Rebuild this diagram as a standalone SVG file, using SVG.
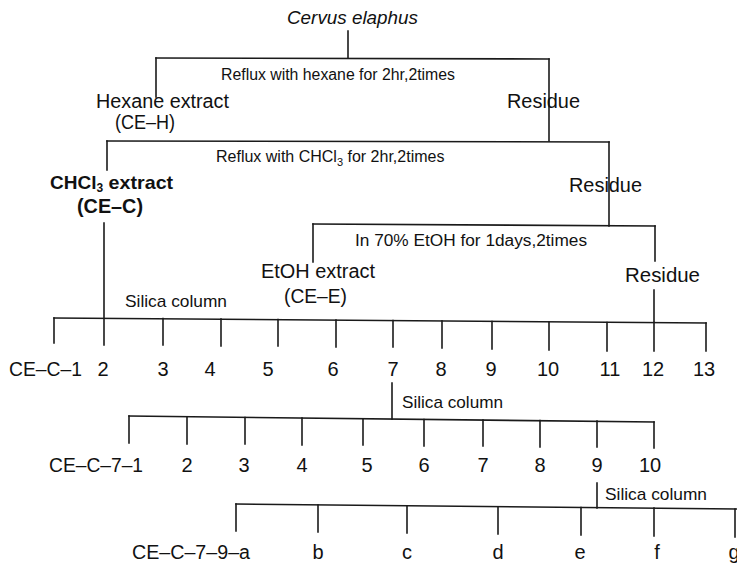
<svg xmlns="http://www.w3.org/2000/svg" width="737" height="567" viewBox="0 0 737 567">
<style>
  .ln { stroke: #1a1a1a; stroke-width: 1.6; fill: none; stroke-linecap: square; }
  text { font-family: "Liberation Sans", Arial, sans-serif; fill: #111; }
  .big { font-size: 20px; }
  .sm { font-size: 16px; }
  .sc { font-size: 17px; }
  .mid { text-anchor: middle; }
  .bd { font-weight: bold; }
</style>
<rect width="737" height="567" fill="#ffffff"/>
<g id="connectors">
  <!-- level 1 -->
  <path class="ln" d="M348,31 V58"/>
  <path class="ln" d="M156,58 L549,59"/>
  <path class="ln" d="M156,58 V97"/>
  <path class="ln" d="M549,59 V141"/>
  <!-- level 2 -->
  <path class="ln" d="M107,141 L609,142"/>
  <path class="ln" d="M107,141 V170"/>
  <path class="ln" d="M609,142 V226"/>
  <!-- level 3 -->
  <path class="ln" d="M313,224 L655,226"/>
  <path class="ln" d="M313,224 V262"/>
  <path class="ln" d="M655,226 V261"/>
  <path class="ln" d="M654,290 V322"/>
  <!-- CHCl3 extract to silica column -->
  <path class="ln" d="M104,223 V345"/>
  <!-- row 1 -->
  <path class="ln" d="M54,318 L706,323"/>
  <path class="ln" d="M54,318 V343"/>
  <path class="ln" d="M163,318.5 V345"/>
  <path class="ln" d="M221,319 V346"/>
  <path class="ln" d="M278,319.5 V346"/>
  <path class="ln" d="M336,320 V347"/>
  <path class="ln" d="M393,320.5 V347"/>
  <path class="ln" d="M442,321 V348"/>
  <path class="ln" d="M492,321.5 V349"/>
  <path class="ln" d="M549,322 V350"/>
  <path class="ln" d="M607,322.5 V351"/>
  <path class="ln" d="M654,322.5 V351"/>
  <path class="ln" d="M706,323 V351"/>
  <!-- row 1 #7 to row 2 -->
  <path class="ln" d="M392,383 V419"/>
  <!-- row 2 -->
  <path class="ln" d="M129,416 L654,422"/>
  <path class="ln" d="M129,416 V443"/>
  <path class="ln" d="M187,417 V444"/>
  <path class="ln" d="M245,417.5 V444"/>
  <path class="ln" d="M302,418 V445"/>
  <path class="ln" d="M363,419 V445"/>
  <path class="ln" d="M424,419.5 V446"/>
  <path class="ln" d="M483,420 V446"/>
  <path class="ln" d="M540,420.5 V447"/>
  <path class="ln" d="M597,421 V447"/>
  <path class="ln" d="M654,422 V448"/>
  <!-- row 2 #9 to row 3 -->
  <path class="ln" d="M597,483 V508"/>
  <!-- row 3 -->
  <path class="ln" d="M236,504 L737,509"/>
  <path class="ln" d="M236,504 V531"/>
  <path class="ln" d="M318,505 V532"/>
  <path class="ln" d="M407,506 V533"/>
  <path class="ln" d="M498,507 V534"/>
  <path class="ln" d="M581,507.5 V535"/>
  <path class="ln" d="M654,508 V536"/>
  <path class="ln" d="M735,509 V537"/>
</g>

<g id="source"><text x="287" y="24" font-size="19" font-style="italic" textLength="131" lengthAdjust="spacingAndGlyphs">Cervus elaphus</text></g>
<g id="step-hexane"><text class="sm" x="221" y="80" textLength="234" lengthAdjust="spacingAndGlyphs">Reflux with hexane for 2hr,2times</text></g>
<g id="hexane-extract">
  <text class="big" x="96" y="108" textLength="133" lengthAdjust="spacingAndGlyphs">Hexane extract</text>
  <text class="big" x="115" y="129" textLength="60" lengthAdjust="spacingAndGlyphs">(CE–H)</text>
</g>
<g id="residue-1"><text class="big" x="507" y="108" textLength="73" lengthAdjust="spacingAndGlyphs">Residue</text></g>

<g id="step-chcl3"><text class="sm" x="216" y="162">Reflux with CHCl<tspan font-size="11" dy="4">3</tspan><tspan dy="-4"> for 2hr,2times</tspan></text></g>
<g id="chcl3-extract">
  <text class="bd" font-size="19" x="50" y="189">CHCl<tspan font-size="12" dy="3">3</tspan><tspan dy="-3" textLength="70" lengthAdjust="spacingAndGlyphs"> extract</tspan></text>
  <text class="big bd" x="77" y="213" textLength="66" lengthAdjust="spacingAndGlyphs">(CE–C)</text>
</g>
<g id="residue-2"><text class="big" x="569" y="192" textLength="73" lengthAdjust="spacingAndGlyphs">Residue</text></g>

<g id="step-etoh"><text class="sm" x="355" y="246" textLength="232" lengthAdjust="spacingAndGlyphs">In 70% EtOH for 1days,2times</text></g>
<g id="etoh-extract">
  <text class="big" x="261" y="278" textLength="114" lengthAdjust="spacingAndGlyphs">EtOH extract</text>
  <text class="big" x="284" y="303" textLength="63" lengthAdjust="spacingAndGlyphs">(CE–E)</text>
</g>
<g id="residue-3"><text class="big" x="625" y="282" textLength="75" lengthAdjust="spacingAndGlyphs">Residue</text></g>

<g id="silica-1"><text class="sc" x="125" y="307" textLength="102" lengthAdjust="spacingAndGlyphs">Silica column</text></g>
<g id="fractions-ce-c">
  <text class="big" x="9" y="376" textLength="73" lengthAdjust="spacingAndGlyphs">CE–C–1</text>
  <text class="big mid" x="103" y="376">2</text>
  <text class="big mid" x="163" y="376">3</text>
  <text class="big mid" x="210" y="376">4</text>
  <text class="big mid" x="268" y="376">5</text>
  <text class="big mid" x="333" y="376">6</text>
  <text class="big mid" x="393" y="376">7</text>
  <text class="big mid" x="441" y="376">8</text>
  <text class="big mid" x="491" y="376">9</text>
  <text class="big mid" x="548" y="376">10</text>
  <text class="big mid" x="610" y="376">11</text>
  <text class="big mid" x="653" y="376">12</text>
  <text class="big mid" x="704" y="376">13</text>
</g>

<g id="silica-2"><text class="sc" x="402" y="408" textLength="101" lengthAdjust="spacingAndGlyphs">Silica column</text></g>
<g id="fractions-ce-c-7">
  <text class="big" x="49" y="472" textLength="94" lengthAdjust="spacingAndGlyphs">CE–C–7–1</text>
  <text class="big mid" x="187" y="472">2</text>
  <text class="big mid" x="244" y="472">3</text>
  <text class="big mid" x="302" y="472">4</text>
  <text class="big mid" x="367" y="472">5</text>
  <text class="big mid" x="424" y="472">6</text>
  <text class="big mid" x="483" y="472">7</text>
  <text class="big mid" x="540" y="472">8</text>
  <text class="big mid" x="597" y="472">9</text>
  <text class="big mid" x="650" y="472">10</text>
</g>

<g id="silica-3"><text class="sc" x="605" y="500" textLength="102" lengthAdjust="spacingAndGlyphs">Silica column</text></g>
<g id="fractions-ce-c-7-9">
  <text class="big" x="132" y="559" textLength="118" lengthAdjust="spacingAndGlyphs">CE–C–7–9–a</text>
  <text class="big mid" x="318" y="559">b</text>
  <text class="big mid" x="407" y="559">c</text>
  <text class="big mid" x="498" y="559">d</text>
  <text class="big mid" x="580" y="559">e</text>
  <text class="big mid" x="657" y="559">f</text>
  <text class="big mid" x="734" y="559">g</text>
</g>
</svg>
